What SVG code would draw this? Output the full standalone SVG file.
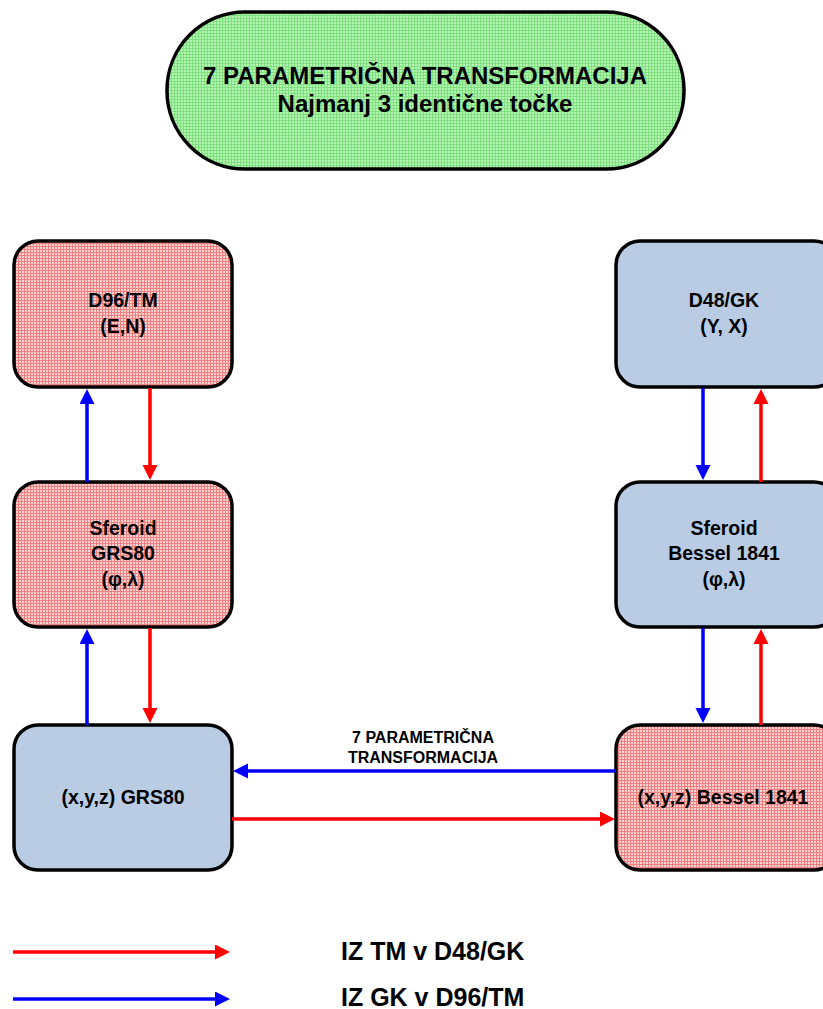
<svg xmlns="http://www.w3.org/2000/svg" width="823" height="1009" viewBox="0 0 823 1009">
<defs>
<pattern id="pinkGrid" width="3" height="3" patternUnits="userSpaceOnUse">
<rect width="3" height="3" fill="#fbd3d3"/>
<path d="M0 0.5H3M0.5 0V3" stroke="#f08080" stroke-width="1"/>
</pattern>
<pattern id="greenGrid" width="3" height="3" patternUnits="userSpaceOnUse">
<rect width="3" height="3" fill="#b4f5b4"/>
<path d="M0 0.5H3M0.5 0V3" stroke="#80e080" stroke-width="1"/>
</pattern>
<marker id="ahRed" markerUnits="userSpaceOnUse" markerWidth="16" markerHeight="16" refX="7" refY="7.5" orient="auto">
<path d="M0 0L15 7.5L0 15Z" fill="#ff0000"/>
</marker>
<marker id="ahBlue" markerUnits="userSpaceOnUse" markerWidth="16" markerHeight="16" refX="7" refY="7.5" orient="auto">
<path d="M0 0L15 7.5L0 15Z" fill="#0000ff"/>
</marker>
</defs>
<style>
.box{stroke:#000;stroke-width:3.5}
.pink{fill:url(#pinkGrid)}
.blue{fill:#b9cce4}
.t{font-family:"Liberation Sans",Arial,sans-serif;font-weight:bold;fill:#000;text-anchor:middle}
.s{text-anchor:start}
.bt{font-size:19.5px}
.red{stroke:#ff0000;stroke-width:3.5;fill:none;marker-end:url(#ahRed)}
.bl{stroke:#0000ff;stroke-width:3.5;fill:none;marker-end:url(#ahBlue)}
</style>
<rect width="823" height="1009" fill="#fff"/>

<g id="title">
<rect class="box" x="167" y="12" width="517" height="157" rx="78" fill="url(#greenGrid)"/>
<text class="t" x="425" y="84" font-size="24">7 PARAMETRIČNA TRANSFORMACIJA</text>
<text class="t" x="425" y="112" font-size="24">Najmanj 3 identične točke</text>
</g>

<g id="d96tm">
<rect class="box pink" x="14" y="241" width="218" height="146" rx="24"/>
<text class="t bt" x="123" y="307">D96/TM</text>
<text class="t bt" x="123" y="333">(E,N)</text>
</g>
<g id="sferoid-grs80">
<rect class="box pink" x="14" y="482" width="218" height="145" rx="24"/>
<text class="t bt" x="123" y="535">Sferoid</text>
<text class="t bt" x="123" y="560">GRS80</text>
<text class="t bt" x="123" y="586">(φ,λ)</text>
</g>
<g id="xyz-grs80">
<rect class="box blue" x="14" y="725" width="218" height="145" rx="24"/>
<text class="t bt" x="123" y="804">(x,y,z) GRS80</text>
</g>

<g id="d48gk">
<rect class="box blue" x="616" y="241" width="222" height="146" rx="24"/>
<text class="t bt" x="724" y="307">D48/GK</text>
<text class="t bt" x="724" y="333">(Y, X)</text>
</g>
<g id="sferoid-bessel">
<rect class="box blue" x="616" y="482" width="222" height="145" rx="24"/>
<text class="t bt" x="724" y="535">Sferoid</text>
<text class="t bt" x="724" y="560">Bessel 1841</text>
<text class="t bt" x="724" y="586">(φ,λ)</text>
</g>
<g id="xyz-bessel">
<rect class="box pink" x="616" y="725" width="222" height="145" rx="24"/>
<text class="t bt" x="723" y="804">(x,y,z) Bessel 1841</text>
</g>

<g id="connectors">
<path class="bl" d="M87 482V397"/>
<path class="red" d="M150 388V472"/>
<path class="bl" d="M87 725V637"/>
<path class="red" d="M150 628V715"/>
<path class="bl" d="M703 388V472"/>
<path class="red" d="M761 482V397"/>
<path class="bl" d="M703 628V715"/>
<path class="red" d="M761 725V637"/>
<path class="bl" d="M616 771H241"/>
<path class="red" d="M232 819H607"/>
<text class="t" x="423" y="743" font-size="16">7 PARAMETRIČNA</text>
<text class="t" x="423" y="763" font-size="16">TRANSFORMACIJA</text>
</g>

<g id="legend">
<path class="red" d="M13 952H222"/>
<path class="bl" d="M13 999H222"/>
<text class="t s" x="341" y="960" font-size="25">IZ TM v D48/GK</text>
<text class="t s" x="341" y="1006" font-size="25">IZ GK v D96/TM</text>
</g>
</svg>
